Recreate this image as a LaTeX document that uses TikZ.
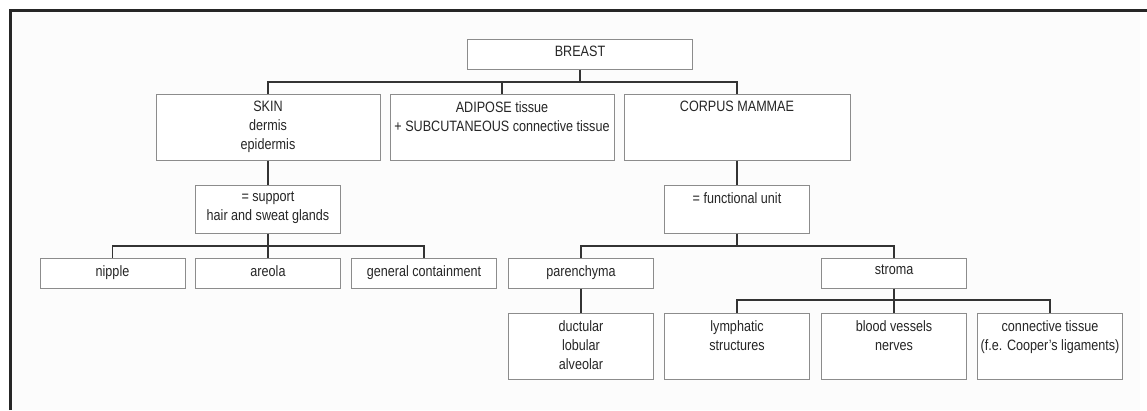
\documentclass[tikz,border=0pt]{standalone}
\usepackage{fontspec}
\setmainfont{Liberation Sans}[FakeStretch=0.84]
\tikzset{
  treebox/.style={draw=black!45, line width=1pt, fill=white, minimum width=145pt, minimum height=30pt, inner sep=0pt},
  boxtext/.style={anchor=north, align=center, inner sep=0pt, yshift=-7.5pt, text=black!85, font=\fontsize{15}{19}\selectfont},
  link/.style={draw=black!80, line width=1.4pt},
  frameline/.style={draw=black!85, line width=3pt}
}
\begin{document}
\begin{tikzpicture}[x=1pt,y=-1pt]
\useasboundingbox (0,0) rectangle (1147,410);
\fill[white] (0,0) rectangle (1147,410);
\fill[black!1] (10,10) rectangle (1140,410);
\draw[frameline] (10,410) -- (10,10) -- (1147,10);
\coordinate (bus1) at (0,82);
\coordinate (bus2) at (0,246);
\coordinate (bus4) at (0,300);
% top levels
\node[treebox, minimum width=225pt, label={[boxtext]north:BREAST}] (breast) at (580,54) {};
\node[treebox, minimum width=224pt, minimum height=66pt, label={[boxtext]north:SKIN\\dermis\\epidermis}] (skin) at (268,127) {};
\node[treebox, minimum width=224pt, minimum height=66pt, label={[boxtext]north:ADIPOSE tissue\\+ SUBCUTANEOUS connective tissue}] (adipose) at (502,127) {};
\node[treebox, minimum width=226pt, minimum height=66pt, label={[boxtext]north:CORPUS MAMMAE}] (corpus) at (737,127) {};
\node[treebox, minimum height=48pt, label={[boxtext]north:= support\\hair and sweat glands}] (support) at (268,209) {};
\node[treebox, minimum height=48pt, label={[boxtext]north:= functional unit}] (functional) at (737,209) {};
% skin parts
\node[treebox, label={[boxtext]north:nipple}] (nipple) at (112.5,273) {};
\node[treebox, label={[boxtext]north:areola}] (areola) at (268,273) {};
\node[treebox, label={[boxtext]north:general containment}] (general) at (424,273) {};
% corpus parts
\node[treebox, label={[boxtext]north:parenchyma}] (parenchyma) at (581,273) {};
\node[treebox, label={[boxtext]north:stroma}] (stroma) at (894,273) {};
\node[treebox, minimum height=66pt, label={[boxtext]north:ductular\\lobular\\alveolar}] (ductular) at (581,346) {};
\node[treebox, minimum height=66pt, label={[boxtext]north:lymphatic\\structures}] (lymphatic) at (737,346) {};
\node[treebox, minimum height=66pt, label={[boxtext]north:blood vessels\\nerves}] (blood) at (894,346) {};
\node[treebox, minimum height=66pt, label={[boxtext]north:connective tissue\\(f.e. Cooper's ligaments)}] (connective) at (1050,346) {};
% connectors
\draw[link] (breast) -- (breast |- bus1);
\draw[link] (skin.north) |- (corpus.north |- bus1) -- (corpus.north);
\draw[link] (adipose.north) -- (adipose.north |- bus1);
\draw[link] (skin) -- (support);
\draw[link] (corpus) -- (functional);
\draw[link] (support) -- (areola);
\draw[link] (nipple.north) |- (general.north |- bus2) -- (general.north);
\draw[link] (functional) -- (functional |- bus2);
\draw[link] (parenchyma.north) |- (stroma.north |- bus2) -- (stroma.north);
\draw[link] (parenchyma) -- (ductular);
\draw[link] (stroma) -- (blood);
\draw[link] (lymphatic.north) |- (connective.north |- bus4) -- (connective.north);
\end{tikzpicture}
\end{document}
